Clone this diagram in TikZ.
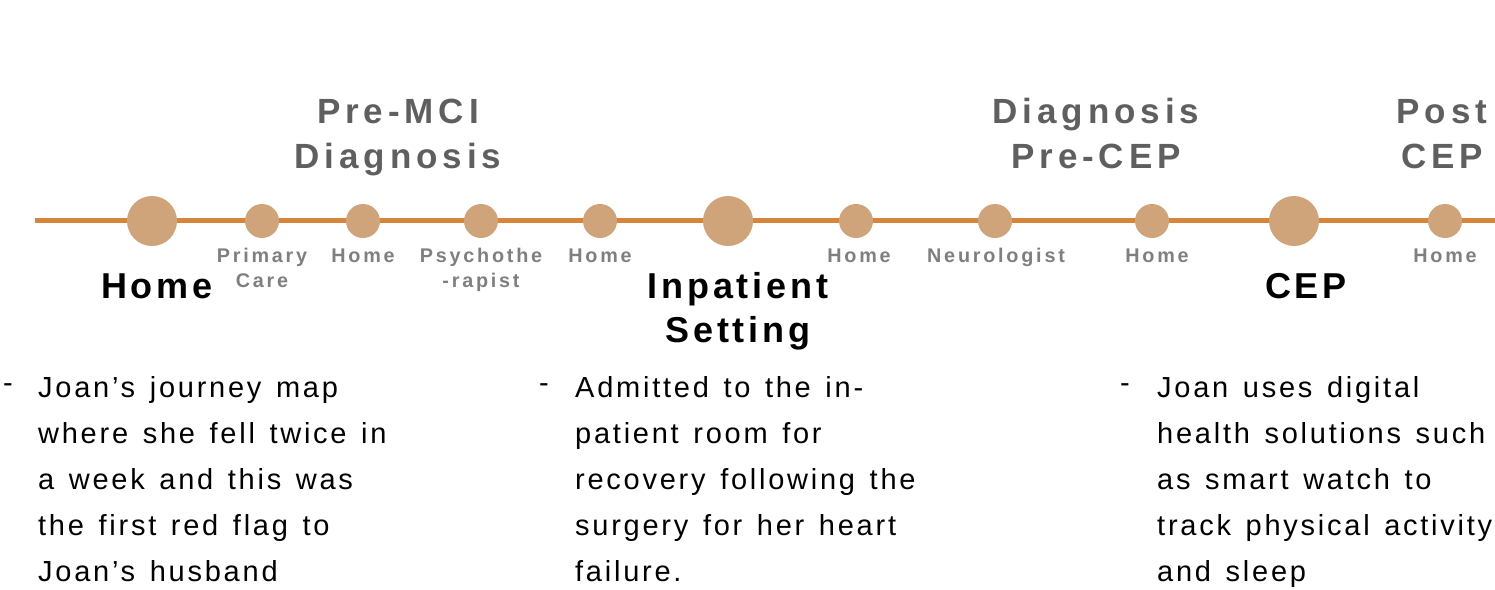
\documentclass[tikz,border=0pt]{standalone}
\usepackage{fontspec}
\setmainfont{Liberation Sans}
\newfontfamily\bodyfont[LetterSpace=9.5,WordSpace=1.35]{Liberation Sans}
\newfontfamily\headfont[LetterSpace=14]{Liberation Sans}
\newfontfamily\bigfont[LetterSpace=11]{Liberation Sans}
\newfontfamily\smallfont[LetterSpace=14]{Liberation Sans}
\definecolor{lineorange}{HTML}{D6853A}
\definecolor{dottan}{HTML}{CFA47A}
\definecolor{headgray}{HTML}{5F5F5F}
\definecolor{subgray}{HTML}{7F7F7F}
\begin{document}
\begin{tikzpicture}[x=1pt,y=-1pt,
  stage/.style={circle,fill=dottan,inner sep=0pt,minimum size=50pt},
  stop/.style={circle,fill=dottan,inner sep=0pt,minimum size=34pt},
  phase/.style={anchor=base,align=center,inner sep=0pt,text=headgray,font=\headfont\bfseries\fontsize{35}{45}\selectfont},
  place/.style={anchor=base,align=center,inner sep=0pt,text=black,font=\bigfont\bfseries\fontsize{36}{44}\selectfont},
  visit/.style={anchor=base,align=center,inner sep=0pt,text=subgray,font=\smallfont\bfseries\fontsize{19.8}{25}\selectfont},
  bodytext/.style={anchor=base west,align=left,inner sep=0pt,text=black,font=\bodyfont\fontsize{29}{46}\selectfont},
  bullet/.style={anchor=base,inner sep=0pt,text=black,font=\bodyfont\fontsize{29}{46}\selectfont},
  timeline/.style={draw=lineorange,line width=4.5pt}]
\useasboundingbox (0,0) rectangle (1495,589);

% timeline
\coordinate (ls) at (35,220.5);
\coordinate (le) at (1495,220.5);
\draw[timeline] (ls) -- (le);

% stops
\node[stage] (s1) at (152,221) {};
\node[stop]  (p1) at (262,221) {};
\node[stop]  (p2) at (363,221) {};
\node[stop]  (p3) at (481,221) {};
\node[stop]  (p4) at (600,221) {};
\node[stage] (s2) at (728,221) {};
\node[stop]  (p5) at (856,221) {};
\node[stop]  (p6) at (995,221) {};
\node[stop]  (p7) at (1152,221) {};
\node[stage] (s3) at (1294,221) {};
\node[stop]  (p8) at (1445,221) {};

% phase headings (base = last line)
\node[phase] (h1) at (398,168) {Pre-MCI\\Diagnosis};
\node[phase] (h2) at (1096,168) {Diagnosis\\Pre-CEP};
\node[phase] (h3) at (1442,168) {Post\\CEP};

% small visit labels
\node[visit] (v1) at (262,287) {Primary\\Care};
\node[visit] (v2) at (363,262) {Home};
\node[visit] (v3) at (481,287) {Psychothe\\-rapist};
\node[visit] (v4) at (600,262) {Home};
\node[visit] (v5) at (859,262) {Home};
\node[visit] (v6) at (996,262) {Neurologist};
\node[visit] (v7) at (1157,262) {Home};
\node[visit] (v8) at (1445,262) {Home};

% main places
\node[place] (m1) at (157,298) {Home};
\node[place] (m2) at (738,342) {Inpatient\\Setting};
\node[place] (m3) at (1306,298) {CEP};

% descriptions (base = last line)
\node[bullet] (d1) at (8,392) {-};
\node[bodytext] (t1) at (38,581) {Joan’s journey map\\where she fell twice in\\a week and this was\\the first red flag to\\Joan’s husband};
\node[bullet] (d2) at (544,392) {-};
\node[bodytext] (t2) at (575,581) {Admitted to the in-\\patient room for\\recovery following the\\surgery for her heart\\failure.};
\node[bullet] (d3) at (1125,392) {-};
\node[bodytext] (t3) at (1157,581) {Joan uses digital\\health solutions such\\as smart watch to\\track physical activity\\and sleep};
\end{tikzpicture}
\end{document}
